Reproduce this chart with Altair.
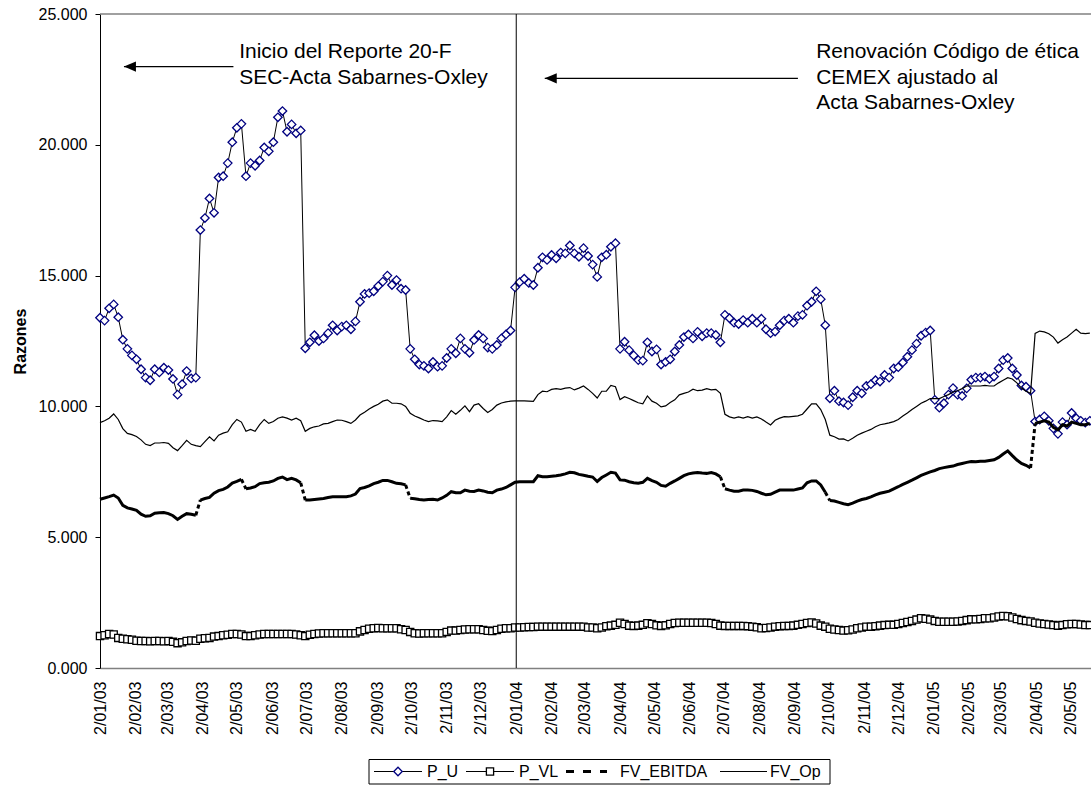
import altair as alt
import numpy as np
import pandas as pd

FUENTE = "Liberation Sans"

# Observaciones cada 4 días a partir del 2/01/03
fechas = pd.date_range("2003-01-02", periods=218, freq="4D")

p_u = [
    13.39, 13.28, 13.75, 13.90, 13.41, 12.55, 12.20, 11.95, 11.80, 11.42,
    11.10, 11.00, 11.42, 11.30, 11.48, 11.39, 11.05, 10.45, 10.85, 11.35,
    11.07, 11.10, 16.74, 17.20, 17.95, 17.40, 18.75, 18.80, 19.30, 20.10,
    20.65, 20.80, 18.80, 19.30, 19.20, 19.40, 19.90, 19.75, 20.10, 21.05,
    21.29, 20.50, 20.78, 20.44, 20.55, 12.22, 12.45, 12.72, 12.50, 12.60,
    12.80, 13.10, 12.90, 13.05, 13.10, 12.95, 13.25, 14.00, 14.30, 14.33,
    14.40, 14.60, 14.77, 15.00, 14.64, 14.83, 14.50, 14.45, 12.20, 11.80,
    11.60, 11.55, 11.45, 11.70, 11.52, 11.55, 11.85, 12.20, 12.03, 12.60,
    12.20, 12.05, 12.54, 12.73, 12.60, 12.25, 12.20, 12.35, 12.60, 12.75,
    12.90, 14.55, 14.75, 14.88, 14.72, 14.64, 15.30, 15.70, 15.60, 15.79,
    15.66, 15.88, 15.85, 16.15, 15.85, 15.72, 16.05, 15.75, 15.42, 14.95,
    15.70, 15.80, 16.10, 16.24, 12.20, 12.47, 12.15, 11.95, 11.77, 11.75,
    12.45, 12.10, 12.18, 11.60, 11.70, 11.80, 12.10, 12.35, 12.65, 12.75,
    12.60, 12.85, 12.68, 12.80, 12.80, 12.73, 12.45, 13.50, 13.37, 13.20,
    13.15, 13.30, 13.20, 13.35, 13.20, 13.35, 12.95, 12.80, 12.86, 13.10,
    13.28, 13.35, 13.20, 13.45, 13.50, 13.85, 14.00, 14.40, 14.10, 13.10,
    10.31, 10.60, 10.20, 10.15, 10.05, 10.35, 10.60, 10.50, 10.78, 10.85,
    11.00, 10.95, 11.20, 11.10, 11.45, 11.50, 11.68, 11.90, 12.15, 12.40,
    12.70, 12.82, 12.90, 10.25, 9.95, 10.12, 10.45, 10.70, 10.45, 10.40,
    10.69, 11.02, 11.10, 11.10, 11.14, 11.05, 11.14, 11.45, 11.77, 11.85,
    11.45, 11.20, 10.80, 10.75, 10.60, 9.42, 9.50, 9.62, 9.45, 9.16,
    8.95, 9.40, 9.30, 9.75, 9.55, 9.45, 9.38, 9.45,
]

p_vl = [
    1.22, 1.25, 1.30, 1.28, 1.15, 1.12, 1.10, 1.08, 1.04, 1.03,
    1.03, 1.02, 1.03, 1.03, 1.02, 1.03, 1.00, 0.95, 0.98, 1.03,
    1.05, 1.04, 1.12, 1.14, 1.15, 1.20, 1.22, 1.25, 1.27, 1.30,
    1.30, 1.28, 1.22, 1.22, 1.25, 1.28, 1.30, 1.30, 1.30, 1.30,
    1.30, 1.30, 1.30, 1.28, 1.25, 1.22, 1.27, 1.30, 1.32, 1.33,
    1.33, 1.33, 1.33, 1.33, 1.33, 1.33, 1.33, 1.40, 1.45, 1.50,
    1.52, 1.53, 1.52, 1.52, 1.52, 1.52, 1.48, 1.45, 1.38, 1.33,
    1.32, 1.33, 1.33, 1.33, 1.33, 1.33, 1.38, 1.43, 1.43, 1.45,
    1.47, 1.48, 1.48, 1.48, 1.45, 1.42, 1.41, 1.45, 1.50, 1.52,
    1.52, 1.55, 1.55, 1.56, 1.57, 1.57, 1.58, 1.58, 1.58, 1.58,
    1.58, 1.58, 1.58, 1.58, 1.58, 1.58, 1.58, 1.55, 1.55, 1.52,
    1.55, 1.60, 1.62, 1.65, 1.73, 1.68, 1.62, 1.61, 1.62, 1.65,
    1.71, 1.68, 1.63, 1.61, 1.63, 1.68, 1.72, 1.73, 1.73, 1.73,
    1.73, 1.73, 1.73, 1.73, 1.72, 1.68, 1.62, 1.61, 1.61, 1.61,
    1.61, 1.61, 1.60, 1.58, 1.56, 1.52, 1.53, 1.55, 1.58, 1.60,
    1.61, 1.61, 1.62, 1.65, 1.68, 1.72, 1.74, 1.70, 1.62, 1.58,
    1.50, 1.47, 1.45, 1.43, 1.44, 1.47, 1.52, 1.55, 1.58, 1.58,
    1.60, 1.62, 1.64, 1.65, 1.65, 1.68, 1.72, 1.76, 1.80, 1.85,
    1.90, 1.88, 1.85, 1.80, 1.77, 1.77, 1.77, 1.77, 1.78, 1.80,
    1.83, 1.86, 1.86, 1.87, 1.90, 1.90, 1.93, 1.97, 1.99, 1.98,
    1.93, 1.87, 1.83, 1.80, 1.78, 1.73, 1.70, 1.68, 1.66, 1.64,
    1.62, 1.64, 1.67, 1.68, 1.68, 1.66, 1.64, 1.64,
]

fv_ebitda = [
    6.45, 6.50, 6.55, 6.61, 6.50, 6.22, 6.12, 6.08, 6.03, 5.88,
    5.80, 5.82, 5.92, 5.93, 5.94, 5.90, 5.82, 5.68, 5.80, 5.90,
    5.88, 5.84, 6.42, 6.48, 6.52, 6.68, 6.78, 6.83, 6.92, 7.07,
    7.13, 7.21, 6.85, 6.88, 6.93, 7.05, 7.08, 7.10, 7.15, 7.25,
    7.30, 7.20, 7.25, 7.19, 7.08, 6.42, 6.42, 6.44, 6.46, 6.48,
    6.52, 6.55, 6.55, 6.55, 6.55, 6.58, 6.65, 6.86, 6.90, 6.96,
    7.05, 7.10, 7.17, 7.17, 7.12, 7.06, 7.04, 7.00, 6.49, 6.47,
    6.44, 6.42, 6.44, 6.45, 6.42, 6.50, 6.60, 6.74, 6.70, 6.70,
    6.80, 6.76, 6.75, 6.80, 6.77, 6.72, 6.70, 6.80, 6.84, 6.90,
    7.00, 7.10, 7.12, 7.12, 7.12, 7.12, 7.35, 7.31, 7.31, 7.33,
    7.35, 7.38, 7.42, 7.48, 7.46, 7.40, 7.37, 7.33, 7.30, 7.13,
    7.28, 7.38, 7.48, 7.45, 7.19, 7.18, 7.12, 7.08, 7.06, 7.10,
    7.25, 7.16, 7.10, 6.98, 6.95, 7.06, 7.15, 7.25, 7.35, 7.42,
    7.45, 7.47, 7.45, 7.44, 7.47, 7.42, 7.31, 6.85, 6.80, 6.76,
    6.76, 6.80, 6.80, 6.79, 6.75, 6.68, 6.62, 6.64, 6.72, 6.80,
    6.80, 6.80, 6.80, 6.84, 6.88, 7.08, 7.15, 7.15, 7.00, 6.72,
    6.40, 6.38, 6.33, 6.28, 6.24, 6.30, 6.38, 6.44, 6.48, 6.54,
    6.62, 6.68, 6.72, 6.76, 6.85, 6.93, 7.02, 7.10, 7.18, 7.27,
    7.36, 7.43, 7.50, 7.55, 7.62, 7.66, 7.69, 7.72, 7.78, 7.82,
    7.86, 7.89, 7.88, 7.90, 7.90, 7.93, 7.96, 8.05, 8.18, 8.30,
    8.12, 7.95, 7.82, 7.75, 7.65, 9.35, 9.40, 9.45, 9.40, 9.20,
    9.10, 9.30, 9.25, 9.40, 9.35, 9.30, 9.30, 9.35,
]

fv_op = [
    9.38, 9.45, 9.55, 9.71, 9.50, 9.15, 8.97, 8.92, 8.85, 8.72,
    8.55, 8.50, 8.60, 8.60, 8.62, 8.59, 8.42, 8.31, 8.50, 8.70,
    8.55, 8.50, 8.46, 8.65, 8.84, 8.68, 8.90, 8.98, 9.03, 9.30,
    9.50, 9.40, 9.05, 9.12, 9.05, 9.30, 9.50, 9.35, 9.42, 9.55,
    9.60, 9.55, 9.48, 9.55, 9.45, 9.05, 9.16, 9.22, 9.25, 9.33,
    9.35, 9.42, 9.48, 9.47, 9.42, 9.35, 9.48, 9.67, 9.78, 9.90,
    10.00, 10.08, 10.20, 10.25, 10.12, 10.12, 10.10, 10.00, 9.74, 9.63,
    9.56, 9.48, 9.42, 9.46, 9.45, 9.42, 9.60, 9.84, 9.70, 9.85,
    10.02, 9.80, 10.05, 10.10, 9.92, 9.77, 9.88, 10.05, 10.13, 10.17,
    10.20, 10.21, 10.21, 10.21, 10.20, 10.19, 10.45, 10.58, 10.56, 10.65,
    10.68, 10.65, 10.70, 10.72, 10.63, 10.70, 10.78, 10.65, 10.50, 10.32,
    10.58, 10.58, 10.80, 10.75, 10.26, 10.37, 10.30, 10.22, 10.14, 10.10,
    10.40, 10.20, 10.12, 9.98, 10.02, 10.15, 10.25, 10.44, 10.50, 10.55,
    10.66, 10.60, 10.62, 10.68, 10.63, 10.65, 10.50, 9.70, 9.60, 9.55,
    9.60, 9.55, 9.61, 9.55, 9.60, 9.52, 9.40, 9.29, 9.47, 9.55,
    9.61, 9.60, 9.62, 9.64, 9.70, 9.90, 10.10, 10.10, 9.88, 9.50,
    8.90, 8.84, 8.75, 8.76, 8.68, 8.78, 8.90, 8.98, 9.05, 9.12,
    9.22, 9.30, 9.33, 9.37, 9.42, 9.50, 9.63, 9.75, 9.88, 10.00,
    10.12, 10.20, 10.30, 10.30, 10.30, 10.38, 10.45, 10.55, 10.60, 10.68,
    10.78, 10.78, 10.78, 10.78, 10.80, 10.78, 10.78, 10.90, 11.00, 11.10,
    11.05, 10.90, 10.70, 10.58, 10.50, 12.79, 12.88, 12.85, 12.78, 12.65,
    12.42, 12.55, 12.65, 12.80, 12.95, 12.80, 12.78, 12.80,
]

for serie in (p_u, p_vl, fv_ebitda, fv_op):
    assert len(serie) == len(fechas)

fechas_txt = list(fechas.strftime("%Y-%m-%dT00:00:00Z"))

datos = pd.DataFrame({
    "fecha": fechas_txt,
    "P_U": p_u,
    "P_VL": p_vl,
    "FV_EBITDA": fv_ebitda,
    "FV_Op": fv_op,
})

# FV_EBITDA se dibuja por tramos; los saltos entre tramos van punteados
saltos = np.where(np.abs(np.diff(fv_ebitda)) > 0.3)[0]
datos["tramo"] = np.concatenate([[0], np.cumsum(np.abs(np.diff(fv_ebitda)) > 0.3)])
uniones = pd.DataFrame(
    [{"fecha": fechas_txt[j], "valor": fv_ebitda[j], "salto": int(i)}
     for i in saltos for j in (i, i + 1)]
)

# Escalas y ejes compartidos
inicio = alt.DateTime(year=2003, month=1, date=2, utc=True)
fin = alt.DateTime(year=2005, month=5, date=20, utc=True)
marcas_mes = [
    alt.DateTime(year=d.year, month=d.month, date=2, utc=True)
    for d in pd.date_range("2003-01-01", "2005-05-01", freq="MS")
]

eje_fechas = alt.Axis(
    values=marcas_mes, format="%-d/%m/%y", labelAngle=270, labelFont=FUENTE,
    labelFontSize=16, labelColor="black", ticks=False, domainColor="#808080",
    domainWidth=1.5, labelPadding=13, grid=False, labelOverlap=False, labelFlush=False,
)
eje_razones = alt.Axis(
    values=[0, 5, 10, 15, 20, 25], format=".3f", labelFont=FUENTE, labelFontSize=16,
    labelColor="black", tickColor="black", tickSize=5, domainColor="black",
    labelPadding=8, grid=False, titleFont=FUENTE, titleFontSize=16,
    titleFontWeight="bold", titleColor="black", titlePadding=10,
)


def x_fecha(campo="fecha:T"):
    return alt.X(campo, title=None, scale=alt.Scale(type="utc", domain=[inicio, fin]), axis=eje_fechas)


def y_razon(campo):
    return alt.Y(campo, title="Razones", scale=alt.Scale(domain=[0, 25], nice=False), axis=eje_razones)


base = alt.Chart(datos)

linea_pu = base.mark_line(color="black", strokeWidth=1).encode(x=x_fecha(), y=y_razon("P_U:Q"))
puntos_pu = base.mark_point(
    shape="diamond", size=72, filled=True, fill="white", stroke="#000080",
    strokeWidth=1.3, opacity=1,
).encode(x=x_fecha(), y=y_razon("P_U:Q"))

linea_pvl = base.mark_line(color="black", strokeWidth=1).encode(x=x_fecha(), y=y_razon("P_VL:Q"))
puntos_pvl = base.mark_point(
    shape="square", size=52, filled=True, fill="white", stroke="black",
    strokeWidth=1.3, opacity=1,
).encode(x=x_fecha(), y=y_razon("P_VL:Q"))

linea_ebitda = base.mark_line(color="black", strokeWidth=3).encode(
    x=x_fecha(), y=y_razon("FV_EBITDA:Q"), detail="tramo:N"
)
saltos_ebitda = alt.Chart(uniones).mark_line(
    color="black", strokeWidth=3, strokeDash=[4, 3]
).encode(x=x_fecha(), y=y_razon("valor:Q"), detail="salto:N")

linea_op = base.mark_line(color="black", strokeWidth=1.2).encode(x=x_fecha(), y=y_razon("FV_Op:Q"))

# Marco superior del área de trazado y línea del 2/01/04
borde_sup = alt.Chart(pd.DataFrame({"valor": [25]})).mark_rule(
    color="#808080", strokeWidth=1.5
).encode(y=y_razon("valor:Q"))
corte = alt.Chart(pd.DataFrame({"fecha": ["2004-01-02T00:00:00Z"]})).mark_rule(
    color="black", strokeWidth=1
).encode(x=x_fecha())

# Anotaciones
notas = pd.DataFrame({
    "fecha": ["2003-05-04T00:00:00Z", "2004-09-21T00:00:00Z"],
    "valor": [23.31, 23.31],
    "texto": [
        ["Inicio del Reporte 20-F", "SEC-Acta Sabarnes-Oxley"],
        ["Renovación Código de ética", "CEMEX ajustado al", "Acta Sabarnes-Oxley"],
    ],
})
textos = alt.Chart(notas).mark_text(
    align="left", baseline="alphabetic", font=FUENTE, fontSize=21,
    lineHeight=25.3, color="black",
).encode(x=x_fecha(), y=y_razon("valor:Q"), text="texto")

flechas = pd.DataFrame({
    "flecha": [1, 1, 2, 2],
    "fecha": ["2003-01-23T00:00:00Z", "2003-04-29T00:00:00Z",
              "2004-01-27T00:00:00Z", "2004-09-05T00:00:00Z"],
    "valor": [22.99, 22.99, 22.54, 22.54],
})
astas = alt.Chart(flechas).mark_line(color="black", strokeWidth=1.2).encode(
    x=x_fecha(), y=y_razon("valor:Q"), detail="flecha:N"
)
puntas = alt.Chart(flechas.groupby("flecha").first().reset_index()).mark_point(
    shape="M-1,0L1,-0.85L1,0.85Z", size=144, filled=True, color="black",
    opacity=1, xOffset=6,
).encode(x=x_fecha(), y=y_razon("valor:Q"))

# Leyenda (coordenadas en píxeles respecto al área de trazado)
ley_y = 757.5
ley_caja = pd.DataFrame({"x0": [269], "x1": [730], "y0": [745.5], "y1": [770]})
ley_lineas = pd.DataFrame({
    "x0": [274, 366, 620], "x1": [322, 414, 667], "y": [ley_y] * 3,
})
ley_guiones = pd.DataFrame({"x0": [466], "x1": [507], "y": [ley_y]})
ley_textos = pd.DataFrame({
    "x": [327, 419, 520, 670], "y": [ley_y] * 4,
    "texto": ["P_U", "P_VL", "FV_EBITDA", "FV_Op"],
})
ley_rombo = pd.DataFrame({"x": [298], "y": [ley_y]})
ley_cuadro = pd.DataFrame({"x": [390], "y": [ley_y]})

px = lambda c: alt.X(c, scale=None, axis=None)
py = lambda c: alt.Y(c, scale=None, axis=None)

caja = alt.Chart(ley_caja).mark_rect(fill="white", stroke="black", strokeWidth=1).encode(
    x=px("x0:Q"), x2="x1:Q", y=py("y0:Q"), y2="y1:Q"
)
lineas_ley = alt.Chart(ley_lineas).mark_rule(color="black", strokeWidth=1.2).encode(
    x=px("x0:Q"), x2="x1:Q", y=py("y:Q")
)
guiones_ley = alt.Chart(ley_guiones).mark_rule(
    color="black", strokeWidth=3, strokeDash=[8, 9]
).encode(x=px("x0:Q"), x2="x1:Q", y=py("y:Q"))
rombo_ley = alt.Chart(ley_rombo).mark_point(
    shape="diamond", size=72, filled=True, fill="white", stroke="#000080",
    strokeWidth=1.3, opacity=1,
).encode(x=px("x:Q"), y=py("y:Q"))
cuadro_ley = alt.Chart(ley_cuadro).mark_point(
    shape="square", size=52, filled=True, fill="white", stroke="black",
    strokeWidth=1.3, opacity=1,
).encode(x=px("x:Q"), y=py("y:Q"))
textos_ley = alt.Chart(ley_textos).mark_text(
    align="left", baseline="middle", font=FUENTE, fontSize=16, color="black"
).encode(x=px("x:Q"), y=py("y:Q"), text="texto:N")

chart = alt.layer(
    borde_sup, linea_pu, puntos_pu, linea_pvl, puntos_pvl, linea_ebitda,
    saltos_ebitda, linea_op, corte, astas, puntas, textos,
    caja, lineas_ley, guiones_ley, rombo_ley, cuadro_ley, textos_ley,
).properties(
    width=991, height=654,
    autosize=alt.AutoSizeParams(type="none"),
    padding={"left": 100, "top": 14, "right": 0, "bottom": 119},
    background="white",
).configure_view(stroke=None)

chart.save("out.html", embed_options={"renderer": "svg", "actions": False})
